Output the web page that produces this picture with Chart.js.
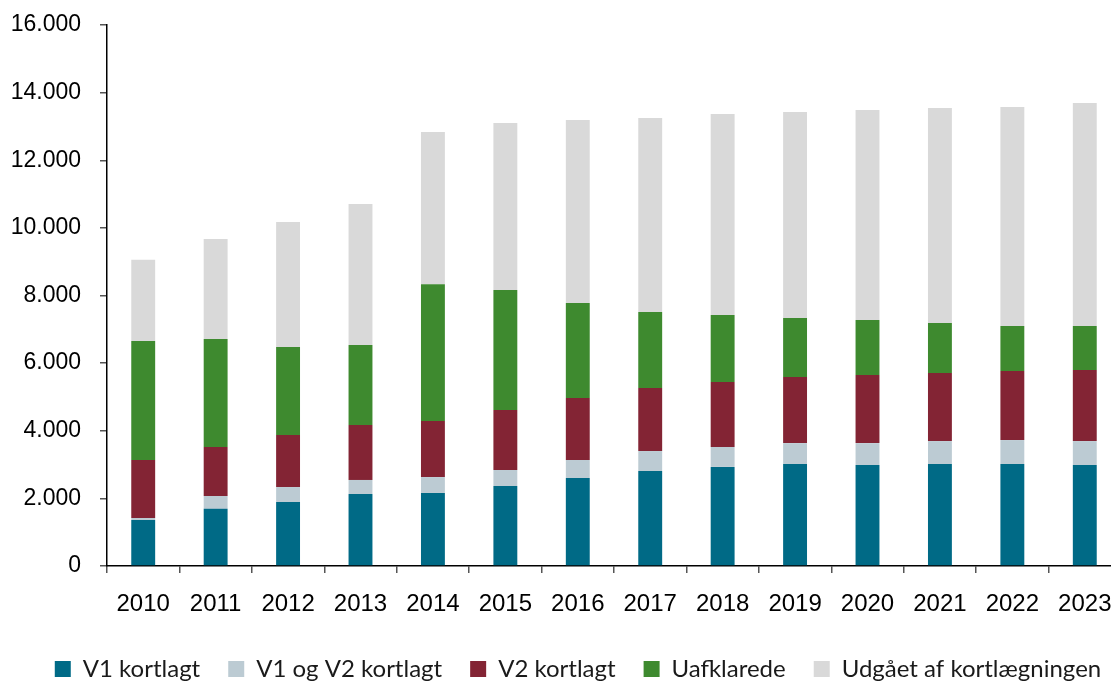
<!DOCTYPE html>
<html>
<head>
<meta charset="utf-8">
<script src="https://cdn.jsdelivr.net/npm/chart.js@4.4.1/dist/chart.umd.min.js"></script>
<style>
  html, body { margin: 0; padding: 0; background: #fff; overflow: hidden; }
  #wrap { width: 1156px; height: 684px; position: relative; }
</style>
</head>
<body>
<div id="wrap"><canvas id="myChart"></canvas></div>
<script>
const years = ['2010','2011','2012','2013','2014','2015','2016','2017','2018','2019','2020','2021','2022','2023'];
const v1 = [1360,1690,1890,2130,2160,2365,2600,2810,2930,3015,2985,3015,3015,2985];
const v1v2 = [60,380,445,415,470,475,535,590,590,620,650,680,710,710];
const v2 = [1715,1450,1540,1625,1655,1775,1835,1865,1925,1955,2015,2010,2040,2100];
const uaf = [3520,3195,2600,2365,4050,3550,2810,2250,1980,1745,1625,1480,1330,1300];
const udg = [2400,2955,3700,4170,4500,4940,5410,5735,5945,6090,6210,6360,6480,6600];
const yTicks = [0,2000,4000,6000,8000,10000,12000,14000,16000];

const fmt = v => String(v).replace(/\B(?=(\d{3})+(?!\d))/g, '.');

const ctx = document.getElementById('myChart');
new Chart(ctx, {
  type: 'bar',
  data: {
    labels: years,
    datasets: [
      { label: 'V1 kortlagt', data: v1, backgroundColor: '#006a86' },
      { label: 'V1 og V2 kortlagt', data: v1v2, backgroundColor: '#bccbd3' },
      { label: 'V2 kortlagt', data: v2, backgroundColor: '#832434' },
      { label: 'Uafklarede', data: uaf, backgroundColor: '#3e8a2f' },
      { label: 'Udgået af kortlægningen', data: udg, backgroundColor: '#d9d9d9' }
    ]
  },
  options: {
    responsive: true,
    maintainAspectRatio: false,
    animation: false,
    datasets: { bar: { barPercentage: 0.33, categoryPercentage: 1 } },
    layout: { padding: { top: 25, bottom: 0, left: 0, right: 0 } },
    plugins: {
      tooltip: { enabled: false },
      legend: {
        position: 'bottom',
        maxHeight: 55,
        labels: {
          boxWidth: 16,
          boxHeight: 16,
          padding: 28,
          color: '#1a1a1a',
          font: { family: 'Lato', size: 24 }
        }
      }
    },
    scales: {
      x: {
        stacked: true,
        afterFit: s => { s.height = 63; },
        grid: { drawOnChartArea: false, drawTicks: true, tickLength: 7, color: '#555', lineWidth: 1.5 },
        border: { color: '#000', width: 1.5 },
        ticks: { color: '#000', padding: 17, font: { family: 'Liberation Sans', size: 24 } }
      },
      y: {
        stacked: true,
        min: 0,
        max: 16000,
        afterFit: s => { s.width = 107; s.paddingTop = 0; s.paddingBottom = 0; },
        afterBuildTicks: s => { s.ticks = yTicks.map(v => ({ value: v })); },
        grid: { drawOnChartArea: false, drawTicks: true, tickLength: 7, color: '#555', lineWidth: 1.5 },
        border: { color: '#000', width: 1.5 },
        ticks: { color: '#000', padding: 19, font: { family: 'Liberation Sans', size: 23 }, callback: v => fmt(v) }
      },
      y2: {
        position: 'right',
        display: true,
        afterFit: s => { s.width = 35; s.paddingTop = 0; s.paddingBottom = 0; },
        grid: { display: false },
        border: { display: false },
        ticks: { display: false }
      }
    }
  }
});
</script>
</body>
</html>
